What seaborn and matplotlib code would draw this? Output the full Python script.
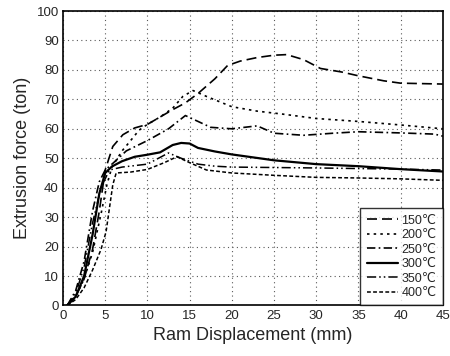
import numpy as np
import pandas as pd
import seaborn as sns
import matplotlib.pyplot as plt

# ram displacement (mm) vs extrusion force (ton)
x_150 = [0.5, 1.5, 2.5, 3.5, 4.3, 5.0, 5.9, 7.1, 8.5, 10.0, 11.5, 13.0, 14.5, 16.0, 18.0, 19.5, 21.0, 23.0, 25.0, 26.5, 28.5, 30.5, 33.0, 35.0, 38.0, 40.0, 45.0]
y_150 = [0, 3, 9, 19, 32, 46, 54, 58, 60.3, 61.5, 64, 66.5, 68.8, 72, 77, 81.5, 83, 84.2, 85, 85.2, 83.5, 80.5, 79.3, 78, 76.3, 75.5, 75.2]

x_200 = [0.5, 1.5, 2.5, 3.5, 4.5, 5.2, 5.8, 7.0, 7.9, 9.0, 10.0, 11.5, 13.0, 14.2, 15.4, 17.0, 20.0, 23.0, 26.0, 30.0, 35.0, 40.0, 45.0]
y_200 = [0, 3, 9, 18, 31, 41, 47, 52.5, 55.6, 59.5, 61.5, 64, 67, 71, 73, 71, 67.5, 66, 65, 63.5, 62.5, 61.3, 60]

x_250 = [0.5, 1.5, 2.5, 3.5, 4.3, 5.0, 6.0, 7.5, 10.0, 12.5, 14.5, 16.0, 17.5, 20.0, 23.0, 25.0, 28.5, 32.0, 35.0, 40.0, 44.0, 45.0]
y_250 = [0, 5, 15, 32, 42, 46, 48.5, 52.5, 56, 60, 64.5, 62.5, 60.5, 60, 61, 58.5, 57.8, 58.5, 59, 58.6, 58.2, 57.5]

x_300 = [0.5, 1.5, 2.5, 3.5, 4.3, 5.0, 5.8, 7.0, 8.5, 10.0, 11.5, 13.0, 14.0, 15.0, 16.0, 18.0, 20.0, 25.0, 30.0, 35.0, 40.0, 45.0]
y_300 = [0, 3, 10, 24, 38, 45, 47.2, 49, 50.5, 51.2, 52, 54.5, 55.2, 55, 53.5, 52.3, 51.3, 49.3, 48, 47.3, 46.3, 45.5]

x_350 = [0.5, 1.5, 2.5, 3.5, 4.5, 5.5, 7.0, 10.0, 12.5, 14.0, 16.0, 18.0, 20.0, 30.0, 40.0, 45.0]
y_350 = [0, 4, 13, 28, 40, 46, 47, 48, 51.8, 50, 48, 47.3, 47, 46.7, 46.3, 46]

x_400 = [0.5, 1.5, 2.5, 3.5, 4.5, 5.1, 5.5, 5.9, 6.3, 8.0, 10.0, 12.0, 13.5, 15.0, 17.0, 20.0, 25.0, 30.0, 35.0, 40.0, 45.0]
y_400 = [0, 2, 6, 12, 19, 25, 33, 41, 45, 45.3, 46.2, 48.5, 50.5, 48.5, 46, 45, 44.2, 43.5, 43.3, 43, 42.5]

labels = ['150℃', '200℃', '250℃', '300℃', '350℃', '400℃']
series = [(x_150, y_150), (x_200, y_200), (x_250, y_250),
          (x_300, y_300), (x_350, y_350), (x_400, y_400)]
styles = [(0, (6, 3)), (0, (1.5, 2.5)), (0, (5, 2, 1, 2)), '-',
          (0, (6, 2, 1, 2, 1, 2)), (0, (2.5, 1.5))]
widths = [1.2, 1.2, 1.2, 1.6, 1.1, 1.1]

sns.set_style('white')
plt.rcParams['font.family'] = ['Liberation Sans', 'DejaVu Sans']

fig = plt.figure(figsize=(4.5, 3.56), dpi=100)
ax = fig.add_axes([0.14, 0.142, 0.844, 0.827])

for (xs, ys), lab, ls, lw in zip(series, labels, styles, widths):
    df = pd.DataFrame({'x': xs, 'y': ys})
    sns.lineplot(data=df, x='x', y='y', ax=ax, color='black', linestyle=ls,
                 linewidth=lw, label=lab)

ax.set_xlim(0, 45)
ax.set_ylim(0, 100)
ax.set_xticks(np.arange(0, 46, 5))
ax.set_yticks(np.arange(0, 101, 10))
ax.grid(True, linestyle=(0, (1, 3)), color='0.35', linewidth=0.8)
ax.tick_params(direction='in', labelsize=9.5, length=3, pad=3)
for s in ax.spines.values():
    s.set_color('black')
    s.set_linewidth(1.2)
ax.set_xlabel('Ram Displacement (mm)', fontsize=13, labelpad=4)
ax.set_ylabel('Extrusion force (ton)', fontsize=13, labelpad=4)

leg = ax.legend(loc='lower right', fontsize=9, frameon=True, fancybox=False,
                edgecolor='black', borderpad=0.5, labelspacing=0.2,
                handlelength=2.5, handletextpad=0.3, borderaxespad=0)
leg.get_frame().set_linewidth(1.0)

fig.savefig('out.png', dpi=100)
